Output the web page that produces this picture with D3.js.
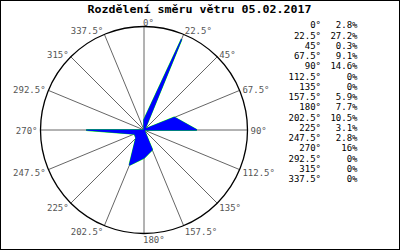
<!DOCTYPE html>
<html><head><meta charset="utf-8">
<script src="https://cdn.jsdelivr.net/npm/d3@7"></script>
<style>html,body{margin:0;padding:0;background:#fff;}svg{display:block;}</style>
</head><body>
<svg id="chart" width="400" height="250"></svg>
<script>
const title = "Rozdělení směru větru 05.02.2017";
const directions = [0, 22.5, 45, 67.5, 90, 112.5, 135, 157.5, 180, 202.5, 225, 247.5, 270, 292.5, 315, 337.5];
const dirLabels = ["0°", "22.5°", "45°", "67.5°", "90°", "112.5°", "135°", "157.5°", "180°", "202.5°", "225°", "247.5°", "270°", "292.5°", "315°", "337.5°"];
const percents = [2.8, 27.2, 0.3, 9.1, 14.6, 0, 0, 5.9, 7.7, 10.5, 3.1, 2.8, 16, 0, 0, 0];
const percentLabels = ["2.8%", "27.2%", "0.3%", "9.1%", "14.6%", "0%", "0%", "5.9%", "7.7%", "10.5%", "3.1%", "2.8%", "16%", "0%", "0%", "0%"];

const svg = d3.select("#chart");
const W = 400, H = 250;
const cx = 144, cy = 130, R = 103.5;
const mono = "'DejaVu Sans Mono', 'Liberation Mono', monospace";

svg.append("rect").attr("x", 0.5).attr("y", 0.5).attr("width", W - 1).attr("height", H - 1)
  .attr("fill", "#fff").attr("stroke", "#000").attr("stroke-width", 1);

svg.append("text").attr("x", 199.5).attr("y", 12.5).attr("text-anchor", "middle")
  .attr("font-family", mono).attr("font-weight", "bold").attr("font-size", 10.5)
  .attr("textLength", 224).attr("lengthAdjust", "spacingAndGlyphs")
  .attr("fill", "#000").text(title);

const g = svg.append("g").attr("transform", `translate(${cx},${cy})`);
const ang = d3.scaleLinear().domain([0, 360]).range([0, 2 * Math.PI]);
const rad = d3.scaleLinear().domain([0, d3.max(percents)]).range([0, R * 0.95]);

// radial grid lines
g.selectAll("line.spoke").data(directions).join("line").attr("class", "spoke")
  .attr("x1", 0).attr("y1", 0)
  .attr("x2", d => R * Math.sin(ang(d))).attr("y2", d => -R * Math.cos(ang(d)))
  .attr("stroke", "#666").attr("stroke-width", 1);

// circle
g.append("circle").attr("r", R).attr("fill", "none").attr("stroke", "#000").attr("stroke-width", 1.3);

// polygon
const line = d3.lineRadial().angle((d, i) => ang(directions[i])).radius(d => rad(d)).curve(d3.curveLinearClosed);
g.append("path").attr("d", line(percents)).attr("fill", "none").attr("stroke", "#00ff00")
  .attr("stroke-width", 1.8).attr("stroke-linejoin", "bevel");
g.append("path").attr("d", line(percents)).attr("fill", "#0000ff").attr("stroke", "#0000ff")
  .attr("stroke-width", 1.1).attr("stroke-linejoin", "bevel");

// direction labels
g.selectAll("text.dir").data(directions).join("text").attr("class", "dir")
  .attr("font-family", mono).attr("font-size", 9).attr("fill", "#555")
  .attr("text-anchor", d => (d <= 180 ? "start" : "end"))
  .attr("x", d => {
    const s = Math.sin(ang(d));
    const px = R * s;
    if (d === 0 || d === 180) return px - 1;
    return px + s * 3;
  })
  .attr("y", d => -R * Math.cos(ang(d)) - Math.cos(ang(d)) * 5 + 1 + 3.3)
  .text((d, i) => dirLabels[i]);

// legend
const rowY = d3.scaleLinear().domain([0, 1]).range([28.3, 38.55]);
const leg = svg.append("g").attr("font-family", mono).attr("font-size", 9).attr("fill", "#000");
leg.selectAll("text.la").data(dirLabels).join("text").attr("class", "la")
  .attr("x", 321).attr("y", (d, i) => rowY(i)).attr("text-anchor", "end").text(d => d);
leg.selectAll("text.lp").data(percentLabels).join("text").attr("class", "lp")
  .attr("x", 357.5).attr("y", (d, i) => rowY(i)).attr("text-anchor", "end").text(d => d);
</script>
</body></html>
